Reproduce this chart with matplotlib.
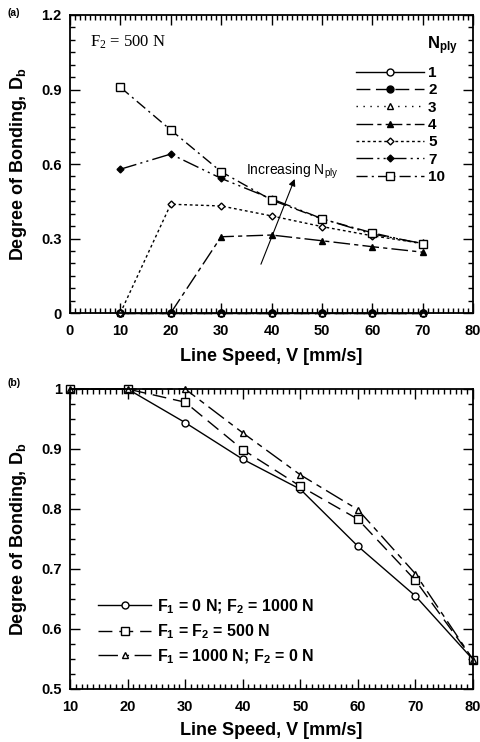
import matplotlib.pyplot as plt
from matplotlib.ticker import MultipleLocator
import numpy as np

plt.rcParams['font.family'] = ['Liberation Sans', 'DejaVu Sans']
plt.rcParams['mathtext.default'] = 'regular'

# (a) F2 = 500 N, degree of bonding vs line speed for various ply counts
speed_a = [10, 20, 30, 40, 50, 60, 70]
db_n1 = [0, 0, 0, 0, 0, 0, 0]
db_n2 = [0, 0, 0, 0, 0, 0, 0]
db_n3 = [0, 0, 0, 0, 0, 0, 0]
speed_n4 = [20, 30, 40, 50, 60, 70]
db_n4 = [0, 0.307, 0.314, 0.291, 0.267, 0.245]
db_n5 = [0, 0.438, 0.431, 0.391, 0.348, 0.311, 0.28]
db_n7 = [0.579, 0.640, 0.542, 0.46, 0.38, 0.318, 0.28]
db_n10 = [0.909, 0.737, 0.569, 0.455, 0.379, 0.323, 0.277]

# (b) different force splits
speed_b = [10, 20, 30, 40, 50, 60, 70, 80]
db_f0 = [1.0, 1.0, 0.944, 0.883, 0.833, 0.738, 0.655, 0.549]
db_f500 = [1.0, 1.0, 0.978, 0.899, 0.838, 0.783, 0.681, 0.549]
db_f1000 = [1.0, 1.0, 1.0, 0.927, 0.857, 0.799, 0.692, 0.549]

fig = plt.figure(figsize=(4.81, 7.42), dpi=100)
ax1 = fig.add_axes([70/481, 1-313/742, 403/481, 298/742])
ax2 = fig.add_axes([70/481, 1-689/742, 403/481, 300/742])

lab_font = dict(fontsize=13, fontweight='bold')

def style_axes(ax):
    ax.tick_params(which='both', direction='in', top=True, right=True, width=1)
    ax.tick_params(which='major', length=7)
    ax.tick_params(which='minor', length=3.5)
    ax.tick_params(axis='x', which='major', pad=8)
    ax.tick_params(axis='y', which='major', pad=6)
    for s in ax.spines.values():
        s.set_linewidth(1.3)
    for t in ax.get_xticklabels() + ax.get_yticklabels():
        t.set_fontweight('bold')
        t.set_fontsize(10.5)

# ---- panel (a)
lw = 1.0
ms = 5
ax1.plot(speed_a, db_n1, '-', color='black', lw=lw, marker='o', mfc='white', ms=ms, label='1', clip_on=False)
ax1.plot(speed_a, db_n2, color='black', lw=lw, dashes=(10, 4), marker='o', mfc='black', ms=ms, label='2', clip_on=False)
ax1.plot(speed_a, db_n3, color='black', lw=lw, dashes=(1, 4), marker='^', mfc='white', ms=ms, label='3', clip_on=False)
ax1.plot(speed_n4, db_n4, color='black', lw=lw, dashes=(12, 3, 3, 3), marker='^', mfc='black', ms=ms, label='4')
ax1.plot(speed_a, db_n5, color='black', lw=lw, dashes=(2, 2), marker='D', mfc='white', ms=3.5, label='5', clip_on=False)
ax1.plot(speed_a, db_n7, color='black', lw=lw, dashes=(12, 3, 1.5, 3, 1.5, 3), marker='D', mfc='black', ms=3.5, label='7')
ax1.plot(speed_a, db_n10, color='black', lw=lw, dashes=(8, 3, 1.5, 3), marker='s', mfc='white', ms=6, label='10')

ax1.set_xlim(0, 80)
ax1.set_ylim(0, 1.2)
ax1.xaxis.set_major_locator(MultipleLocator(10))
ax1.xaxis.set_minor_locator(MultipleLocator(1))
ax1.yaxis.set_minor_locator(MultipleLocator(0.05))
ax1.set_yticks([0, 0.3, 0.6, 0.9, 1.2])
ax1.set_yticklabels(['0', '0.3', '0.6', '0.9', '1.2'])
ax1.set_xlabel('Line Speed, V [mm/s]', **lab_font, labelpad=7)
ax1.set_ylabel('Degree of Bonding, D$_b$', **lab_font, labelpad=9)
style_axes(ax1)

ax1.text(4, 1.09, 'F$_2$ = 500 N', family='Liberation Serif', fontsize=12,
         va='center', ha='left', math_fontfamily='stix')
ax1.annotate('', xy=(44.8, 0.55), xytext=(37.7, 0.186),
             arrowprops=dict(arrowstyle='-|>', color='black', lw=0.8, mutation_scale=10))
ax1.text(35, 0.57, 'Increasing N$_{ply}$', fontsize=10, va='center', ha='left')

ax1.legend(loc='upper right', bbox_to_anchor=(0.965, 0.875), frameon=False,
           handlelength=4.4, handletextpad=0.3, labelspacing=0.22,
           prop=dict(weight='bold', size=11))
ax1.text(74, 1.075, 'N$_{ply}$', fontsize=12, fontweight='bold', ha='center', va='center')
fig.text(8/481, 1-13/742, '(a)', fontsize=7.5, fontweight='bold', va='center')

# ---- panel (b)
ax2.plot(speed_b, db_f0, '-', color='black', lw=lw, marker='o', mfc='white', ms=5,
         label='F$_1$ = 0 N; F$_2$ = 1000 N', clip_on=False)
ax2.plot(speed_b, db_f500, color='black', lw=lw, dashes=(10, 5), marker='s', mfc='white', ms=6,
         label='F$_1$ = F$_2$ = 500 N', clip_on=False)
ax2.plot(speed_b, db_f1000, color='black', lw=lw, dashes=(14, 4, 4, 4), marker='^', mfc='white', ms=5,
         label='F$_1$ = 1000 N; F$_2$ = 0 N', clip_on=False)

ax2.set_xlim(10, 80)
ax2.set_ylim(0.5, 1.0)
ax2.xaxis.set_major_locator(MultipleLocator(10))
ax2.xaxis.set_minor_locator(MultipleLocator(1))
ax2.set_yticks([0.5, 0.6, 0.7, 0.8, 0.9, 1.0])
ax2.set_yticklabels(['0.5', '0.6', '0.7', '0.8', '0.9', '1'])
ax2.yaxis.set_minor_locator(MultipleLocator(0.025))
ax2.set_xlabel('Line Speed, V [mm/s]', **lab_font, labelpad=6)
ax2.set_ylabel('Degree of Bonding, D$_b$', **lab_font, labelpad=9)
style_axes(ax2)

ax2.legend(loc='lower left', bbox_to_anchor=(0.035, 0.03), frameon=False,
           handlelength=3.3, handletextpad=0.35, labelspacing=0.4,
           prop=dict(weight='bold', size=11.5))
fig.text(8/481, 1-383/742, '(b)', fontsize=7.5, fontweight='bold', va='center')

fig.savefig('out.png', dpi=100)
